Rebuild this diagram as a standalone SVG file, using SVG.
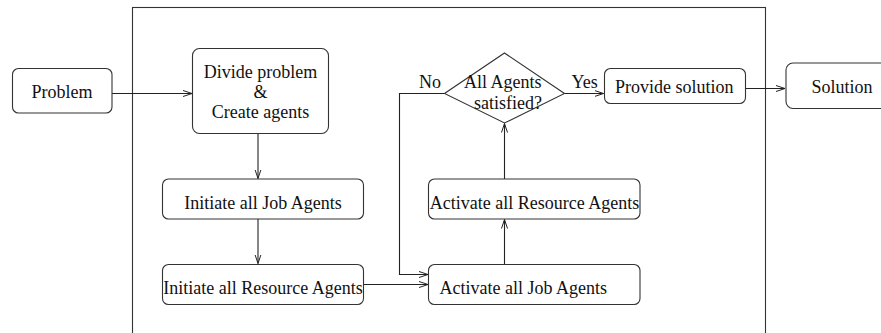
<svg xmlns="http://www.w3.org/2000/svg" width="881" height="333" viewBox="0 0 881 333">
<style>
.box{fill:#fff;stroke:#333;stroke-width:1.1}
.ln{fill:none;stroke:#222;stroke-width:1.1}
text{font-family:"Liberation Serif","Times New Roman",serif;font-size:18px;fill:#111}
.c{text-anchor:middle}
</style>
<defs>
<marker id="ar" markerWidth="12" markerHeight="8" refX="9" refY="4" orient="auto" markerUnits="userSpaceOnUse">
<path d="M0,1 L9,4 L0,7" fill="none" stroke="#222" stroke-width="1"/>
</marker>
</defs>
<rect id="frame" x="132.5" y="7.5" width="633" height="340" fill="none" stroke="#333" stroke-width="1.1"/>
<g id="connectors">
<path class="ln" d="M112,93.5 H192" marker-end="url(#ar)"/>
<path class="ln" d="M258,134 V178.5" marker-end="url(#ar)"/>
<path class="ln" d="M258,219 V263.5" marker-end="url(#ar)"/>
<path class="ln" d="M363.5,284.5 H428" marker-end="url(#ar)"/>
<path class="ln" d="M444,93.5 H399.5 V274.5 H428" marker-end="url(#ar)"/>
<path class="ln" d="M504.5,264.5 V219.5" marker-end="url(#ar)"/>
<path class="ln" d="M504.5,179 V123.5" marker-end="url(#ar)"/>
<path class="ln" d="M564.5,93.5 H603.5" marker-end="url(#ar)"/>
<path class="ln" d="M745.5,88.5 H785" marker-end="url(#ar)"/>
</g>
<g id="problem">
<rect class="box" x="12.5" y="68.5" width="99.5" height="44.5" rx="6"/>
<text class="c" x="62" y="98">Problem</text>
</g>
<g id="divide">
<rect class="box" x="192.5" y="48.5" width="136" height="85" rx="7"/>
<text class="c" x="260.5" y="78">Divide problem</text>
<text class="c" x="260.5" y="98">&amp;</text>
<text class="c" x="260.5" y="118">Create agents</text>
</g>
<g id="initJob">
<rect class="box" x="162.5" y="179" width="201" height="40" rx="6"/>
<text class="c" x="263" y="209">Initiate all Job Agents</text>
</g>
<g id="initRes">
<rect class="box" x="162.5" y="264.5" width="201" height="40" rx="6"/>
<text class="c" x="263" y="294">Initiate all Resource Agents</text>
</g>
<g id="actJob">
<rect class="box" x="428.5" y="264.5" width="211.5" height="40" rx="6"/>
<text x="439.5" y="294">Activate all Job Agents</text>
</g>
<g id="actRes">
<rect class="box" x="428.5" y="179" width="211.5" height="40" rx="6"/>
<text class="c" x="534.5" y="209">Activate all Resource Agents</text>
</g>
<g id="decision">
<polygon class="box" points="504.5,53 564.5,93.5 504.5,123 444.5,93.5"/>
<text x="464" y="87.5">All Agents</text>
<text x="474" y="108.5">satisfied?</text>
<text x="419" y="88">No</text>
<text x="571.5" y="88">Yes</text>
</g>
<g id="provide">
<rect class="box" x="604.5" y="68.5" width="141" height="35" rx="6"/>
<text x="615" y="93">Provide solution</text>
</g>
<g id="solution">
<rect class="box" x="786" y="63" width="110" height="45.5" rx="7"/>
<text x="811.5" y="93">Solution</text>
</g>
</svg>
